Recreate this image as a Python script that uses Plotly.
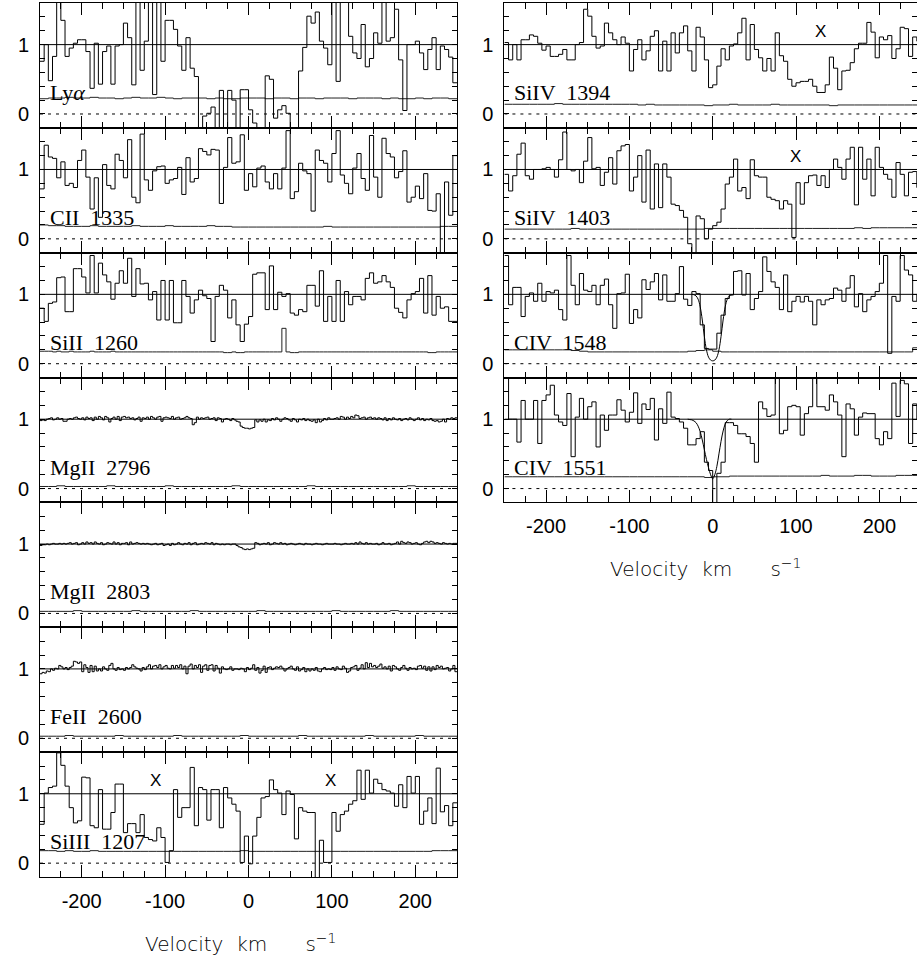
import numpy as np
import plotly.graph_objects as go

# ---------------------------------------------------------------------------
# Normalised flux versus velocity (km/s) for each transition.
# Arrays are sampled on a uniform velocity grid spanning V_MIN..V_MAX;
# the bin width follows from the array length.
# ---------------------------------------------------------------------------
V_MIN, V_MAX = -250.0, 250.0
X_TICKS = [-200, -100, 0, 100, 200]
X_TICK_TEXT = ["-200", "-100", "0", "100", "200"]

LYA = [0.76, 1.0, 0.48, 0.83, 1.75, 1.35, 0.83, 0.95, 1.02, 1.07,
       1.07, 0.9, 0.37, 1.02, 0.43, 0.9, 0.98, 0.43, 0.98, 1.0,
       1.31, 1.1, 0.42, 1.75, 0.63, 1.05, 1.75, 0.28, 1.75, 0.76,
       1.35, 1.35, 1.22, 0.98, 0.63, 1.1, 0.66, 0.54, -0.25, -0.03,
       0.01, 0.1, -0.25, 0.34, -0.25, 0.34, 0.2, -0.25, 0.35, 0.35,
       0.06, -0.13, -0.25, -0.25, 0.55, 0.5, -0.06, 0.06, 0.12, 0.01,
       -0.25, -0.25, 0.62, 0.96, 1.41, 1.31, 1.47, 1.05, 0.95, 0.71,
       1.75, 0.47, 1.75, 1.75, 1.12, 0.88, 0.8, 1.29, 0.68, 0.8,
       1.17, 1.02, 1.75, 1.05, 1.1, 1.51, 0.78, 0.05, 1.0, 1.0,
       1.05, 0.88, 0.64, 0.93, 1.1, 0.64, 0.98, 0.93, 0.82, 0.45]
LYA_ERR = [0.22, 0.23, 0.23, 0.24, 0.23, 0.23, 0.24, 0.23, 0.23, 0.22,
           0.23, 0.24, 0.23, 0.23, 0.24, 0.23, 0.22, 0.23, 0.23, 0.23,
           0.22, 0.23, 0.22, 0.22, 0.23, 0.23, 0.23, 0.22, 0.23, 0.23,
           0.22, 0.23, 0.23, 0.22, 0.23, 0.23, 0.23, 0.22, 0.23, 0.23,
           0.23, 0.22, 0.23, 0.22, 0.22, 0.23, 0.22, 0.23, 0.23, 0.22]

CII_1335 = [0.72, 1.35, 1.18, 1.16, 0.88, 1.11, 0.77, 0.8, 0.74, 1.13,
            1.28, 0.89, 0.43, 0.88, 0.31, 1.07, 0.77, 0.72, 1.22, 1.13,
            0.88, 1.43, 0.6, 0.52, 1.51, 0.85, 0.7, 0.98, 1.04, 1.05,
            0.8, 0.85, 0.87, 1.03, 0.64, 1.17, 0.82, 0.87, 1.3, 1.26,
            1.21, 1.29, 1.28, 0.51, 1.03, 1.46, 1.09, 1.11, 1.5, 0.7,
            0.94, 0.75, 1.02, 1.05, 0.82, 0.72, 0.94, 0.72, 1.02, 1.56,
            0.58, 0.68, 1.09, 0.98, 0.94, 0.4, 1.28, 1.13, 1.09, 0.82,
            1.23, 1.56, 0.92, 0.8, 0.65, 1.02, 1.23, 0.87, 0.7, 1.49,
            0.89, 0.6, 1.45, 1.23, 1.18, 0.88, 0.97, 1.27, 0.53, 0.6,
            0.76, 0.58, 0.94, 0.41, 0.4, 0.65, -0.3, 0.82, 0.34, 1.2]
CII_1335_ERR = [0.2, 0.19, 0.19, 0.18, 0.18, 0.18, 0.19, 0.18, 0.18, 0.18,
                0.18, 0.19, 0.18, 0.18, 0.18, 0.19, 0.18, 0.18, 0.18, 0.18,
                0.19, 0.18, 0.18, 0.17, 0.17, 0.17, 0.17, 0.17, 0.17, 0.17,
                0.17, 0.17, 0.17, 0.17, 0.18, 0.17, 0.17, 0.17, 0.17, 0.17,
                0.17, 0.17, 0.17, 0.17, 0.17, 0.17, 0.17, 0.17, 0.18, 0.18]

SIII_1260 = [0.8, 0.61, 0.87, 0.89, 1.24, 1.25, 0.75, 0.75, 1.37, 1.37,
             1.25, 1.02, 1.56, 1.02, 1.45, 1.28, 1.18, 0.93, 1.16, 1.34,
             1.16, 1.52, 0.97, 1.37, 1.15, 1.16, 0.92, 1.04, 0.63, 1.2,
             0.63, 1.2, 0.59, 0.59, 1.2, 0.97, 0.73, 0.92, 1.06, 0.98,
             0.94, 0.32, 0.97, 1.13, 1.06, 0.66, 0.92, 0.56, 0.32, 0.57,
             0.68, 1.29, 1.31, 1.31, 0.78, 1.41, 0.78, 1.03, 0.97, 1.01,
             0.73, 0.7, 0.78, 0.75, 1.13, 1.13, 0.83, 1.34, 0.61, 0.97,
             0.61, 1.2, 0.61, 1.04, 0.85, 0.97, 0.97, 0.92, 1.23, 1.31,
             1.16, 1.18, 1.27, 1.18, 1.1, 0.8, 0.74, 0.66, 0.92, 1.01,
             1.04, 1.23, 0.73, 1.27, 0.7, 0.97, 0.8, 0.82, 0.61, 0.61]
SIII_1260_ERR = [0.18, 0.18, 0.18, 0.17, 0.18, 0.17, 0.17, 0.18, 0.17, 0.17,
                 0.17, 0.17, 0.18, 0.17, 0.17, 0.17, 0.17, 0.18, 0.17, 0.17,
                 0.17, 0.17, 0.17, 0.17, 0.17, 0.17, 0.17, 0.17, 0.17, 0.17,
                 0.17, 0.17, 0.17, 0.17, 0.17, 0.17, 0.17, 0.17, 0.17, 0.17,
                 0.17, 0.17, 0.17, 0.17, 0.16, 0.16, 0.17, 0.16, 0.16, 0.17,
                 0.17, 0.17, 0.17, 0.17, 0.17, 0.17, 0.17, 0.17, 0.51, 0.17,
                 0.16, 0.16, 0.17, 0.17, 0.17, 0.17, 0.17, 0.17, 0.17, 0.17,
                 0.17, 0.17, 0.17, 0.17, 0.17, 0.17, 0.17, 0.17, 0.17, 0.17,
                 0.17, 0.17, 0.17, 0.17, 0.17, 0.17, 0.17, 0.17, 0.17, 0.17,
                 0.17, 0.17, 0.17, 0.16, 0.16, 0.17, 0.17, 0.17, 0.17, 0.17]

MGII_2796 = [0.98, 0.99, 0.98, 1.0, 1.01, 1.02, 0.99, 1.0, 1.02, 1.0,
             1.01, 0.97, 0.97, 1.0, 1.01, 1.0, 1.02, 1.03, 1.01, 1.0,
             1.02, 0.99, 1.03, 1.01, 1.02, 0.98, 1.03, 1.0, 1.04, 1.02,
             0.99, 1.04, 1.02, 0.96, 1.01, 1.03, 1.0, 1.04, 0.98, 1.03,
             1.04, 1.02, 1.03, 1.01, 1.02, 0.99, 1.01, 1.03, 0.97, 1.02,
             1.01, 1.03, 1.0, 1.04, 1.02, 1.0, 1.03, 1.04, 0.97, 1.02,
             1.03, 1.02, 1.01, 1.04, 1.0, 1.02, 1.03, 1.0, 1.01, 1.02,
             1.04, 1.02, 1.01, 0.92, 0.95, 1.03, 1.0, 1.02, 1.01, 1.02,
             1.03, 1.0, 1.01, 1.02, 0.98, 1.02, 1.01, 0.96, 1.0, 1.01,
             1.0, 0.98, 1.01, 0.99, 0.97, 0.96, 0.9, 0.88, 0.87, 0.87,
             0.86, 0.87, 0.88, 0.99, 0.96, 0.99, 0.97, 1.0, 0.96, 0.99,
             0.98, 1.01, 0.99, 1.02, 1.0, 0.97, 1.0, 1.02, 1.01, 0.99,
             0.97, 1.01, 0.99, 0.96, 1.0, 0.99, 1.01, 0.98, 1.0, 0.98,
             0.97, 0.99, 0.95, 1.0, 0.96, 0.98, 1.01, 0.99, 1.02, 1.0,
             1.0, 1.01, 1.02, 1.0, 1.04, 1.03, 1.0, 1.03, 1.01, 1.04,
             1.02, 1.06, 1.05, 1.01, 1.02, 1.03, 1.0, 1.02, 1.03, 1.01,
             1.02, 1.0, 1.02, 1.01, 0.99, 1.02, 0.98, 1.01, 0.99, 1.02,
             1.0, 0.99, 1.01, 0.98, 1.0, 1.01, 0.99, 1.02, 1.0, 0.98,
             1.0, 1.02, 0.99, 1.01, 0.98, 1.0, 0.99, 1.01, 0.98, 0.97,
             0.98, 0.96, 0.97, 1.0, 0.96, 1.01, 1.0, 1.02, 1.01, 1.02]
MGII_2796_ERR = [0.03, 0.03, 0.04, 0.03, 0.03, 0.03, 0.03, 0.03, 0.04, 0.03,
                 0.03, 0.03, 0.03, 0.03, 0.03, 0.04, 0.03, 0.03, 0.03, 0.03,
                 0.03, 0.03, 0.03, 0.04, 0.03, 0.03, 0.03, 0.03, 0.03, 0.03,
                 0.03, 0.03, 0.04, 0.03, 0.03, 0.03, 0.03, 0.03, 0.03, 0.03,
                 0.03, 0.03, 0.03, 0.03, 0.04, 0.03, 0.03, 0.03, 0.03, 0.03]

MGII_2803 = [0.98, 0.99, 0.99, 1.0, 0.99, 1.0, 1.01, 1.0, 1.0, 1.01,
             1.0, 1.01, 1.0, 1.01, 1.02, 1.0, 1.01, 1.02, 0.99, 1.0,
             1.02, 1.0, 1.03, 1.01, 1.02, 1.0, 1.03, 1.01, 1.0, 1.02,
             0.99, 1.0, 1.02, 1.01, 1.0, 1.03, 1.0, 1.02, 0.99, 1.01,
             1.01, 1.02, 0.99, 1.03, 1.0, 1.01, 1.02, 1.01, 1.0, 1.01,
             1.0, 1.01, 1.0, 0.99, 1.0, 1.01, 0.99, 1.0, 1.01, 0.98,
             0.99, 1.0, 0.98, 1.01, 0.99, 1.0, 1.02, 1.0, 0.99, 1.01,
             1.0, 1.02, 0.99, 1.01, 1.02, 0.99, 1.0, 1.01, 1.0, 1.02,
             1.01, 1.0, 1.02, 0.99, 1.01, 1.0, 0.99, 1.0, 0.99, 1.0,
             1.0, 0.99, 1.0, 1.0, 0.98, 0.96, 0.95, 0.93, 0.92, 0.93,
             0.92, 0.93, 0.94, 1.02, 1.01, 0.99, 1.0, 1.01, 1.0, 1.02,
             0.99, 1.0, 1.02, 1.01, 1.0, 1.02, 1.0, 1.01, 0.99, 1.0,
             1.01, 1.0, 0.99, 1.0, 1.01, 1.0, 0.99, 1.01, 1.0, 1.0,
             0.99, 1.0, 1.01, 1.0, 1.0, 0.99, 1.0, 1.01, 1.0, 1.0,
             1.0, 1.01, 1.0, 1.0, 0.99, 1.0, 1.01, 1.0, 1.0, 1.01,
             1.0, 1.02, 1.0, 1.03, 1.01, 1.0, 1.02, 1.0, 1.01, 1.0,
             1.0, 1.01, 0.99, 1.0, 1.02, 1.0, 1.0, 1.01, 0.99, 1.0,
             1.01, 1.03, 1.0, 1.04, 1.02, 1.01, 1.03, 1.02, 1.0, 1.01,
             1.02, 1.0, 0.99, 1.01, 1.03, 1.04, 1.02, 1.04, 1.03, 1.01,
             1.02, 1.01, 1.0, 1.02, 1.01, 1.0, 1.01, 1.0, 1.01, 1.01]
MGII_2803_ERR = [0.03, 0.03, 0.03, 0.03, 0.04, 0.03, 0.03, 0.03, 0.03, 0.03,
                 0.03, 0.04, 0.03, 0.03, 0.03, 0.03, 0.03, 0.03, 0.04, 0.03,
                 0.03, 0.03, 0.03, 0.03, 0.03, 0.03, 0.04, 0.03, 0.03, 0.03,
                 0.03, 0.03, 0.03, 0.03, 0.03, 0.04, 0.03, 0.03, 0.03, 0.03,
                 0.03, 0.03, 0.04, 0.03, 0.03, 0.03, 0.03, 0.03, 0.03, 0.03]

FEII_2600 = [0.93, 0.95, 0.94, 0.97, 0.96, 1.0, 0.98, 1.01, 1.0, 1.05,
             1.03, 1.0, 1.02, 0.99, 1.02, 1.04, 1.11, 1.1, 1.08, 1.1,
             0.96, 1.06, 1.02, 0.95, 1.05, 0.96, 1.04, 0.97, 1.0, 0.97,
             1.03, 1.0, 0.98, 1.05, 1.08, 1.0, 0.98, 1.02, 0.99, 1.0,
             0.98, 1.02, 1.0, 1.02, 1.06, 1.03, 1.01, 1.0, 0.97, 1.02,
             0.99, 1.03, 1.06, 1.0, 1.04, 1.05, 1.02, 1.06, 1.0, 1.03,
             1.05, 1.01, 1.0, 1.05, 1.01, 1.05, 1.02, 1.06, 1.0, 1.04,
             0.93, 1.04, 1.07, 1.0, 1.05, 1.02, 1.06, 0.95, 1.04, 1.06,
             0.98, 1.05, 1.06, 0.97, 1.05, 1.01, 0.94, 1.03, 1.0, 0.99,
             1.0, 1.03, 0.98, 1.0, 1.0, 0.99, 1.01, 1.0, 0.96, 1.02,
             0.99, 1.01, 1.06, 0.98, 1.02, 0.94, 0.98, 1.04, 0.95, 1.02,
             1.03, 0.99, 1.01, 1.03, 1.02, 1.04, 1.01, 0.97, 1.0, 1.02,
             1.04, 1.0, 0.98, 1.03, 0.97, 0.99, 1.02, 0.96, 1.0, 0.97,
             1.0, 0.98, 1.02, 0.97, 0.96, 1.0, 1.02, 0.99, 1.0, 0.99,
             1.02, 0.98, 1.03, 1.0, 0.99, 1.04, 1.01, 0.95, 0.97, 1.02,
             1.03, 1.05, 0.98, 1.01, 1.06, 1.0, 1.09, 1.02, 1.08, 1.03,
             1.05, 1.02, 1.04, 1.07, 1.01, 1.03, 1.0, 1.04, 0.97, 1.05,
             1.03, 1.0, 0.98, 1.02, 1.05, 1.01, 0.98, 1.02, 1.0, 1.01,
             0.99, 1.04, 1.05, 1.01, 1.04, 0.98, 1.03, 0.97, 1.03, 0.99,
             1.05, 1.02, 1.04, 1.0, 1.01, 1.02, 0.97, 1.0, 1.05, 0.96]
FEII_2600_ERR = [0.03, 0.03, 0.03, 0.04, 0.03, 0.03, 0.03, 0.03, 0.03, 0.04,
                 0.03, 0.03, 0.03, 0.03, 0.03, 0.03, 0.04, 0.03, 0.03, 0.03,
                 0.03, 0.03, 0.03, 0.03, 0.04, 0.03, 0.03, 0.03, 0.03, 0.03,
                 0.03, 0.04, 0.03, 0.03, 0.03, 0.03, 0.03, 0.03, 0.03, 0.04,
                 0.03, 0.03, 0.03, 0.03, 0.03, 0.04, 0.03, 0.03, 0.03, 0.03]

SIIII_1207 = [0.56, 1.01, 1.09, 1.11, 1.59, 1.41, 1.11, 0.8, 0.58, 0.61,
              1.24, 1.23, 0.54, 0.51, 1.06, 0.49, 0.49, 0.73, 1.14, 1.14,
              0.44, 0.57, 0.57, 0.44, 0.7, 0.37, 0.34, 0.32, 0.51, 0.37,
              0.01, 0.18, 1.06, 0.66, 0.8, 0.8, 1.38, 0.54, 1.09, 1.06,
              0.62, 1.06, 1.06, 0.51, 1.09, 0.94, 0.85, 0.75, 0.01, 0.39,
              -0.01, 0.39, 0.66, 0.94, 0.96, 1.2, 1.06, 1.01, 0.7, 1.04,
              0.99, 0.35, 0.8, 0.75, 0.73, 0.73, -0.25, 0.33, 0.01, 0.01,
              0.73, 0.46, 0.7, 0.75, 0.85, 0.9, 1.34, 0.92, 1.34, 1.01,
              1.21, 1.15, 1.06, 1.04, 1.01, 0.82, 1.13, 0.8, 1.25, 1.01,
              1.25, 0.56, 0.75, 0.94, 0.57, 1.37, 0.74, 0.83, 0.54, 0.87]
SIIII_1207_ERR = [0.18, 0.18, 0.17, 0.18, 0.17, 0.17, 0.18, 0.17, 0.17, 0.17,
                  0.17, 0.17, 0.17, 0.17, 0.17, 0.17, 0.17, 0.17, 0.17, 0.17,
                  0.17, 0.17, 0.17, 0.17, 0.18, 0.17, 0.17, 0.17, 0.17, 0.17,
                  0.17, 0.17, 0.17, 0.17, 0.17, 0.17, 0.17, 0.17, 0.17, 0.17,
                  0.17, 0.17, 0.17, 0.17, 0.17, 0.17, 0.17, 0.18, 0.18, 0.18]

SIIV_1394 = [1.03, 0.78, 1.0, 0.78, 1.07, 1.07, 1.14, 1.12, 1.02, 0.92,
             0.98, 0.83, 0.83, 0.86, 0.93, 0.78, 0.78, 1.0, 1.03, 1.51,
             1.41, 1.12, 0.95, 0.98, 1.31, 1.17, 1.07, 1.0, 1.11, 1.02,
             0.62, 0.93, 1.07, 0.78, 0.91, 1.12, 1.2, 0.62, 1.05, 0.62,
             1.17, 0.88, 1.17, 1.27, 0.91, 0.62, 1.25, 1.11, 0.78, 0.38,
             0.42, 0.69, 0.94, 0.78, 0.98, 1.01, 1.17, 1.38, 0.78, 1.29,
             0.93, 0.81, 0.62, 0.8, 0.62, 1.17, 0.84, 0.76, 0.5, 0.4,
             0.45, 0.47, 0.47, 0.5, 0.4, 0.31, 0.31, 0.42, 0.82, 0.66,
             0.35, 0.62, 0.63, 0.74, 0.94, 1.02, 1.02, 1.32, 1.18, 0.81,
             1.11, 1.07, 1.13, 0.8, 0.94, 1.25, 1.23, 0.83, 1.11, 1.05]
SIIV_1394_ERR = [0.14, 0.14, 0.14, 0.14, 0.14, 0.14, 0.15, 0.14, 0.14, 0.14,
                 0.14, 0.14, 0.14, 0.14, 0.14, 0.14, 0.13, 0.14, 0.13, 0.13,
                 0.13, 0.13, 0.13, 0.13, 0.12, 0.13, 0.13, 0.14, 0.13, 0.13,
                 0.13, 0.13, 0.14, 0.13, 0.13, 0.13, 0.13, 0.13, 0.13, 0.12,
                 0.13, 0.13, 0.13, 0.13, 0.13, 0.13, 0.13, 0.13, 0.13, 0.13]

SIIV_1403 = [0.93, 0.69, 0.91, 1.22, 1.38, 0.91, 0.86, 1.0, 1.0, 1.01,
             1.03, 1.0, 0.89, 1.14, 1.54, 1.0, 0.98, 1.0, 0.81, 1.12,
             1.46, 1.01, 1.03, 0.77, 0.96, 1.17, 0.79, 1.27, 1.34, 1.36,
             0.69, 0.89, 1.2, 0.53, 1.28, 0.43, 1.08, 0.45, 1.08, 0.89,
             0.5, 0.48, 0.41, 0.31, -0.07, -0.24, 0.33, 0.29, 0.0, 0.14,
             0.19, 0.24, 0.43, 0.79, 0.89, 1.15, 0.69, 0.74, 0.58, 1.14,
             0.91, 0.89, 0.89, 0.6, 0.57, 0.55, 0.43, 0.55, 0.5, 0.02,
             0.81, 0.5, 0.81, 0.91, 0.92, 0.77, 0.91, 0.74, 1.0, 1.15,
             1.03, 0.86, 1.15, 1.32, 0.49, 1.32, 0.86, 1.15, 0.62, 1.32,
             1.03, 0.93, 0.86, 0.6, 1.1, 0.93, 0.62, 0.96, 0.97, 0.74]
SIIV_1403_ERR = [0.14, 0.14, 0.14, 0.14, 0.14, 0.14, 0.14, 0.14, 0.15, 0.14,
                 0.14, 0.14, 0.14, 0.14, 0.14, 0.14, 0.14, 0.14, 0.14, 0.14,
                 0.14, 0.14, 0.14, 0.14, 0.15, 0.15, 0.15, 0.15, 0.15, 0.15,
                 0.15, 0.15, 0.15, 0.15, 0.15, 0.15, 0.15, 0.15, 0.15, 0.15,
                 0.15, 0.15, 0.16, 0.15, 0.16, 0.16, 0.16, 0.16, 0.16, 0.16]

CIV_1548 = [1.56, 0.85, 1.1, 1.1, 0.68, 0.97, 1.02, 0.9, 1.16, 0.9,
            1.04, 1.02, 1.06, 0.78, 0.63, 1.56, 1.13, 0.85, 1.3, 1.06,
            1.04, 1.13, 0.85, 1.13, 1.22, 0.85, 0.51, 1.01, 1.02, 1.29,
            0.58, 0.78, 0.66, 1.21, 1.07, 1.18, 1.3, 0.92, 1.28, 0.9,
            0.9, 1.01, 1.4, 0.93, 0.84, 1.04, 1.01, 0.56, 0.22, 0.21,
            0.21, 0.44, 0.7, 0.94, 0.99, 1.33, 1.34, 0.99, 1.3, 0.78,
            0.94, 1.04, 1.54, 1.33, 1.18, 1.1, 0.78, 1.28, 0.75, 0.9,
            0.97, 0.89, 0.97, 0.9, 0.56, 0.92, 0.85, 0.92, 0.94, 1.09,
            1.06, 0.9, 1.09, 1.27, 0.82, 1.01, 0.75, 0.92, 0.97, 1.04,
            1.16, 1.56, 0.15, 0.97, 0.9, 1.56, 1.35, 1.28, 0.9, 1.0]
CIV_1548_ERR = [0.2, 0.2, 0.2, 0.2, 0.2, 0.2, 0.2, 0.2, 0.19, 0.18,
                0.17, 0.17, 0.17, 0.17, 0.17, 0.17, 0.17, 0.17, 0.17, 0.17,
                0.17, 0.17, 0.18, 0.19, 0.2, 0.18, 0.17, 0.17, 0.17, 0.17,
                0.17, 0.17, 0.17, 0.17, 0.17, 0.17, 0.17, 0.17, 0.17, 0.17,
                0.17, 0.17, 0.17, 0.17, 0.17, 0.17, 0.17, 0.17, 0.17, 0.23]
# Fitted absorption profile, sampled at 2.5 km/s
CIV_1548_FIT_V = [-25.0, -22.5, -20.0, -17.5, -15.0, -12.5, -10.0, -7.5, -5.0, -2.5, 0.0,
                  2.5, 5.0, 7.5, 10.0, 12.5, 15.0, 17.5, 20.0, 22.5, 25.0]
CIV_1548_FIT = [1.0, 0.994, 0.977, 0.93, 0.82, 0.63, 0.39, 0.2, 0.095, 0.052, 0.041,
                0.052, 0.095, 0.2, 0.39, 0.63, 0.82, 0.93, 0.977, 0.994, 1.0]

CIV_1551 = [1.6, 1.0, 1.0, 0.67, 1.27, 1.0, 1.0, 1.27, 0.65, 1.27,
            1.35, 1.49, 1.06, 0.96, 0.91, 1.37, 0.46, 1.03, 1.3, 1.0,
            1.18, 1.25, 0.6, 1.06, 0.84, 1.06, 1.06, 1.28, 1.13, 0.96,
            1.1, 1.38, 0.94, 1.22, 1.14, 1.3, 0.7, 1.15, 0.94, 1.39,
            1.03, 1.01, 0.96, 0.87, 0.63, 0.63, 0.72, 0.82, 0.38, 0.26,
            -0.22, 0.22, 0.38, 0.95, 0.95, 0.91, 0.79, 0.79, 0.75, 0.65,
            0.38, 1.25, 1.15, 1.04, 1.06, 1.59, 0.79, 0.84, 1.18, 1.2,
            1.18, 0.77, 1.08, 1.18, 1.59, 1.18, 1.18, 1.13, 1.35, 1.25,
            1.06, 0.46, 1.22, 1.15, 0.77, 1.03, 1.09, 1.08, 1.08, 0.72,
            0.63, 0.82, 0.72, 1.52, 1.04, 1.56, 1.51, 0.65, 1.22, 1.0]
CIV_1551_ERR = [0.17, 0.17, 0.17, 0.17, 0.17, 0.17, 0.17, 0.17, 0.17, 0.17,
                0.17, 0.17, 0.17, 0.17, 0.17, 0.17, 0.17, 0.17, 0.17, 0.17,
                0.17, 0.17, 0.17, 0.17, 0.16, 0.17, 0.17, 0.18, 0.18, 0.18,
                0.18, 0.18, 0.18, 0.18, 0.18, 0.18, 0.18, 0.18, 0.19, 0.18,
                0.18, 0.18, 0.19, 0.19, 0.18, 0.18, 0.18, 0.19, 0.19, 0.19]
CIV_1551_FIT_V = [-30.0, -27.5, -25.0, -22.5, -20.0, -17.5, -15.0, -12.5, -10.0, -7.5, -5.0,
                  -2.5, 0.0, 2.5, 5.0, 7.5, 10.0, 12.5, 15.0, 17.5, 20.0, 22.5]
CIV_1551_FIT = [1.0, 0.995, 0.99, 0.975, 0.95, 0.9, 0.82, 0.7, 0.56, 0.42, 0.3,
                0.2, 0.14, 0.2, 0.32, 0.5, 0.68, 0.83, 0.93, 0.98, 1.0, 1.0]

# Panel definitions: (column, row, label, flux, error, fit_v, fit, contamination marks)
PANELS = [
    (0, 0, "Ly<i>α</i>", LYA, LYA_ERR, None, None, []),
    (0, 1, "CII  1335", CII_1335, CII_1335_ERR, None, None, []),
    (0, 2, "SiII  1260", SIII_1260, SIII_1260_ERR, None, None, []),
    (0, 3, "MgII  2796", MGII_2796, MGII_2796_ERR, None, None, []),
    (0, 4, "MgII  2803", MGII_2803, MGII_2803_ERR, None, None, []),
    (0, 5, "FeII  2600", FEII_2600, FEII_2600_ERR, None, None, []),
    (0, 6, "SiIII  1207", SIIII_1207, SIIII_1207_ERR, None, None, [(-112, 1.19), (98, 1.19)]),
    (1, 0, "SiIV  1394", SIIV_1394, SIIV_1394_ERR, None, None, [(129, 1.19)]),
    (1, 1, "SiIV  1403", SIIV_1403, SIIV_1403_ERR, None, None, [(99, 1.18)]),
    (1, 2, "CIV  1548", CIV_1548, CIV_1548_ERR, CIV_1548_FIT_V, CIV_1548_FIT, []),
    (1, 3, "CIV  1551", CIV_1551, CIV_1551_ERR, CIV_1551_FIT_V, CIV_1551_FIT, []),
]
N_ROWS = [7, 4]

# ---------------------------------------------------------------------------
# Page geometry (pixels)
# ---------------------------------------------------------------------------
W, H = 917, 966
TOP = 3.0
PANEL_H = 124.86
COL_X = [(40.0, 457.0), (504.4, 921.0)]   # full plotting width of each column
TITLE_LEFT = [143.0, 608.0]               # left edge of the velocity caption
Y_RANGE = [-0.2, 1.6]

SANS = "Liberation Sans, Arial, Helvetica, sans-serif"
SERIF = "Liberation Serif, Times New Roman, serif"
THIN = "DejaVu Sans ExtraLight, DejaVu Sans, sans-serif"


def steps(values):
    n = len(values)
    edges = np.linspace(V_MIN, V_MAX, n + 1)
    y = list(values) + [values[-1]]
    return edges, y


fig = go.Figure()
layout = dict(
    width=W, height=H, margin=dict(l=0, r=0, t=0, b=0),
    paper_bgcolor="white", plot_bgcolor="white", showlegend=False,
)
annotations = []

for idx, (col, row, label, flux, err, fit_v, fit, marks) in enumerate(PANELS, start=1):
    xa = "x" if idx == 1 else f"x{idx}"
    ya = "y" if idx == 1 else f"y{idx}"

    x0, x1 = COL_X[col]
    x1_vis = min(x1, W)
    vmax_vis = V_MIN + (x1_vis - x0) / (x1 - x0) * (V_MAX - V_MIN)
    top = TOP + row * PANEL_H
    bot = top + PANEL_H
    bottom_row = row == N_ROWS[col] - 1

    layout[f"xaxis{idx}"] = dict(
        domain=[x0 / W, x1_vis / W], anchor=ya, range=[V_MIN, vmax_vis],
        showline=True, linecolor="black", linewidth=1, mirror="ticks",
        ticks="inside", ticklen=12, tickwidth=1, tickcolor="black",
        tickmode="array", tickvals=X_TICKS, ticktext=X_TICK_TEXT,
        minor=dict(ticks="inside", ticklen=6, tickwidth=1, tickcolor="black", dtick=25, tick0=0),
        showgrid=False, zeroline=False, fixedrange=True,
        showticklabels=bottom_row, ticklabelstandoff=6,
        tickfont=dict(family=SANS, size=20, color="black"),
    )
    layout[f"yaxis{idx}"] = dict(
        domain=[1 - bot / H, 1 - top / H], anchor=xa, range=Y_RANGE,
        showline=True, linecolor="black", linewidth=1, mirror="ticks",
        ticks="inside", ticklen=5, tickwidth=1, tickcolor="black",
        tick0=0, dtick=1, tickmode="linear",
        minor=dict(ticks="inside", ticklen=5, tickwidth=1, tickcolor="black", dtick=0.2, tick0=0),
        showgrid=False, zeroline=False, fixedrange=True,
        ticklabelstandoff=6,
        tickfont=dict(family=SANS, size=20, color="black"),
    )

    # continuum and zero level
    fig.add_trace(go.Scatter(x=[V_MIN, V_MAX], y=[1, 1], mode="lines",
                             line=dict(color="black", width=1), xaxis=xa, yaxis=ya,
                             hoverinfo="skip"))
    fig.add_trace(go.Scatter(x=[V_MIN, V_MAX], y=[0, 0], mode="lines",
                             line=dict(color="black", width=1, dash="3px,5px"), xaxis=xa, yaxis=ya,
                             hoverinfo="skip"))
    # error spectrum
    ex, ey = steps(err)
    fig.add_trace(go.Scatter(x=ex, y=ey, mode="lines", line_shape="hv",
                             line=dict(color="#222", width=1), xaxis=xa, yaxis=ya,
                             hoverinfo="skip"))
    # flux
    fx, fy = steps(flux)
    fig.add_trace(go.Scatter(x=fx, y=fy, mode="lines", line_shape="hv",
                             line=dict(color="black", width=1), xaxis=xa, yaxis=ya))
    # model fit
    if fit is not None:
        fig.add_trace(go.Scatter(x=fit_v, y=fit, mode="lines", line_shape="spline",
                                 line=dict(color="black", width=1), xaxis=xa, yaxis=ya,
                                 hoverinfo="skip"))

    annotations.append(dict(
        x=-241, y=0.31, xref=xa, yref=ya, text=label, showarrow=False,
        xanchor="left", yanchor="middle",
        font=dict(family=SERIF, size=22, color="black"),
    ))
    for mv, my in marks:
        annotations.append(dict(
            x=mv, y=my, xref=xa, yref=ya, text="X", showarrow=False,
            xanchor="center", yanchor="middle",
            font=dict(family=SANS, size=17, color="black"),
        ))

    if bottom_row:
        annotations.append(dict(
            x=TITLE_LEFT[col] / W, y=1 - (bot + 51) / H, xref="paper", yref="paper",
            text="Velocity\u00a0\u00a0km\u00a0\u00a0\u00a0\u00a0\u00a0\u00a0s<sup>\u22121</sup>",
            showarrow=False, xanchor="left", yanchor="top",
            font=dict(family=THIN, size=20, color="black", weight=200),
        ))

layout["annotations"] = annotations
fig.update_layout(**layout)
fig.write_html("out.html")
